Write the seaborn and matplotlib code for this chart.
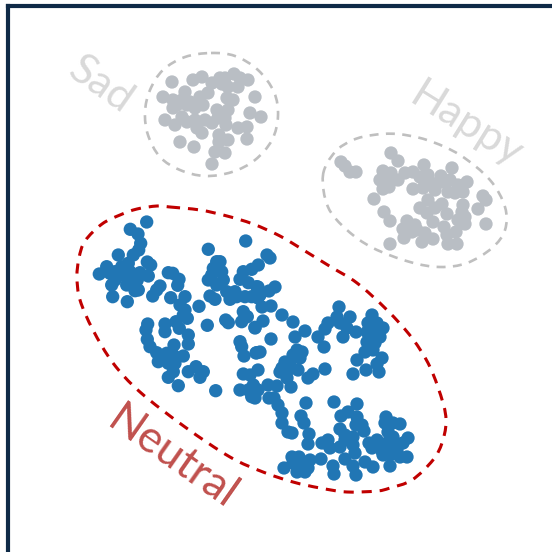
import numpy as np
import pandas as pd
import matplotlib
matplotlib.use("Agg")
import matplotlib.pyplot as plt
import seaborn as sns
from matplotlib.path import Path
from matplotlib.patches import PathPatch

# point positions
neutral_x = [146.7,130.3,138,140.7,138.7,133.3,118.3,147.3,150.7,106.7,99.3,110,115,121.7,128.3,130,123.3,115,111.7,126.7,131.7,140,148.3,137.3,138.3,135,112.7,127.3,160,156.7,152.7,168.3,172.7,179,177.7,170.7,185,180,185,183.3,187.3,199,176,179.3,207.3,147.7,146,165,165,188.3,188.3,147.3,150,156.7,158.3,174,166.7,173.3,183.3,168.3,175,173.3,168.3,178.3,188.3,196,203.3,200,215.7,208.3,245.7,216.7,220,213.3,221.7,211.7,208.3,223.3,216.7,210,215,226.7,235,230,236.7,245,251.7,243.3,251.7,258.3,240,248.3,256.7,260,243.3,247.3,241.7,225.7,228.3,255,240,241.7,244,256.7,243.3,250,240,248.3,253.3,251.7,267,270,258,275,269,258,262,271,282,293,263,255,271,305,295,260,256,339,337,350,328,325,318,324,340,347,343,356,372,368,377,383,367,375,380,367,375,373,365,357,366,382,377,379,353,325,313,308,297,302,293,300,285,290,282,298,288,280,287,291,277,268,258,269,274,278,282,282,288,292,255,258,306,334,357,301,304,309,308,322,328,330,340,345,340,345,353,353,355,341,348,357,356,362,364,386,385,393,400,369,377,372,388,393,387,393,408,403,382,397,390,407,400,390,383,345,353,356,365,373,333,334,321,310,292,299,284,293,303,297,305,308]
neutral_y = [222,229.3,234,243.3,250,255,255,262,265,266.7,274,273.3,271.7,266.7,263.3,271.7,275,280,285,285,278.3,272.7,276,280,290,290.7,296.7,301.7,286,290,296,272.7,273.3,279.3,285.3,297.7,296.7,305,310,315,318.3,306.3,321.7,328.3,325.3,324,330,324,331.7,335,344,339.3,346.7,352.7,361.7,345,353.3,355,356,363.3,363.3,371.7,377.3,385.7,371.7,366.7,371.7,377.3,390.7,249.3,241,261.7,261.7,268.3,271.7,275,280,280,285,296,299.3,291.7,291.7,299.3,296.7,296.7,296.7,271.7,269.3,265,279.3,282.7,286.7,295,311.7,316.7,321.7,320,322.7,327.3,341.7,346.7,356,352.7,374,375,390,390,385,396.7,255,258,287,287,291,298,307,306,315,322,321,328,339,331,337,352,353,307,317,317,323,329,337,347,323,328,337,332,315,323,323,328,332,333,337,342,343,350,352,360,370,358,364,372,374,369,374,378,350,352,355,358,362,362,368,370,370,372,378,387,386,385,370,398,398,405,413,423,432,433,398,390,403,402,404,416,423,434,444,443,440,448,447,440,429,435,437,445,453,416,412,417,425,425,431,417,423,423,424,443,440,448,432,437,443,443,438,443,451,450,455,457,457,466,455,459,466,475,462,467,466,474,459,460,457,457,468,463,463,472,472,468]

sad_x = [172,193,202,163,173,185,182,190,200,208,203,173,195,212,220,225,234,240,248,238,228,222,233,227,255,217,228,165,175,182,187,195,205,212,218,225,226,197,202,250,261,238,247,247,219,219,228,180,194,215,225,212,187,177]
sad_y = [82,80,77,97,100,92,100,102,97,93,105,108,108,83,78,78,74,78,80,87,87,84,100,98,97,110,110,120,125,117,122,120,120,123,118,118,125,128,133,113,117,128,127,139,135,142,140,142,147,152,153,164,105,105]

happy_x = [341,345,350,356,391,398,424,452,383,391,380,387,398,405,413,420,428,441,383,389,413,423,435,430,442,450,448,455,463,467,458,374,428,420,427,435,442,447,433,463,462,465,458,465,478,483,486,486,384,390,407,415,403,412,404,425,422,433,444,447,456,448,457,390,417]
happy_y = [162,166,172,172,153,161,165,168,171,173,180,180,180,173,172,177,175,176,189,187,189,188,190,182,182,180,192,193,192,182,185,199,200,208,213,208,204,214,222,205,212,217,220,224,209,196,200,224,212,221,221,225,229,232,238,233,242,239,227,235,232,244,244,244,230]

# dashed outlines around each group
neutral_loop_x = [170,200,227,253,280,305,331,357,387,412,430,443,446,442,433,412,390,377,347,320,293,263,230,185,140,113,93,80,77,79,85,102,120,137,157]
neutral_loop_y = [207,210,216,224,236,251,267,283,310,338,367,403,423,443,460,480,488,491,492,488,482,472,457,427,392,363,330,300,277,258,241,224,215,209,206]
sad_loop_x = [211,235,258,274,278,272,255,232,205,180,160,148,145,150,163,185]
sad_loop_y = [53,56,70,92,116,140,160,172,176,170,157,135,112,90,70,57]
happy_loop_x = [323,335,353,373,397,427,460,490,505,505,492,467,440,410,373,347,328]
happy_loop_y = [175,152,140,135,134,140,155,180,207,230,248,263,267,262,248,230,207]

group_names = ["Neutral", "Sad", "Happy"]
group_colors = ["#2176b4", "#b9bec4", "#b9bec4"]

df = pd.DataFrame({
    "x": neutral_x + sad_x + happy_x,
    "y": neutral_y + sad_y + happy_y,
    "mood": ["Neutral"] * len(neutral_x) + ["Sad"] * len(sad_x) + ["Happy"] * len(happy_x),
})


def closed_curve(xs, ys):
    # smooth loop through the outline points
    p = np.column_stack([xs, ys])
    n = len(p)
    verts = [p[0]]
    codes = [Path.MOVETO]
    for i in range(n):
        a, b, c, d = p[i - 1], p[i], p[(i + 1) % n], p[(i + 2) % n]
        verts += [b + (c - a) / 6, c - (d - b) / 6, c]
        codes += [Path.CURVE4] * 3
    return Path(verts, codes)


sns.set_style("white")
plt.rcParams["font.family"] = ["Lato", "DejaVu Sans"]

fig = plt.figure(figsize=(5.52, 5.52), dpi=100)
ax = fig.add_axes([8 / 552, 0, 544 / 552, 546.5 / 552])

sns.scatterplot(data=df, x="x", y="y", hue="mood", hue_order=group_names,
                palette=group_colors, s=92, linewidth=0, legend=False, ax=ax, zorder=3)

ax.add_patch(PathPatch(closed_curve(neutral_loop_x, neutral_loop_y), fill=False,
                       ec="#c00000", lw=2.2, ls=(0, (3.3, 2.6))))
ax.add_patch(PathPatch(closed_curve(sad_loop_x, sad_loop_y), fill=False,
                       ec="#bfbfbf", lw=1.9, ls=(0, (3.4, 2.8))))
ax.add_patch(PathPatch(closed_curve(happy_loop_x, happy_loop_y), fill=False,
                       ec="#bfbfbf", lw=1.9, ls=(0, (3.4, 2.8))))

ax.text(101, 85, "Sad", color="#d9d9d9", fontsize=31, rotation=-35, ha="center", va="center")
ax.text(466, 125, "Happy", color="#d9d9d9", fontsize=31, rotation=-32, ha="center", va="center")
ax.text(172, 458, "Neutral", color="#c0504d", fontsize=32, rotation=-35, ha="center", va="center")

ax.set_xlim(8, 552)
ax.set_ylim(552, 5.5)
ax.set_xticks([])
ax.set_yticks([])
ax.set_xlabel("")
ax.set_ylabel("")
ax.spines["right"].set_visible(False)
ax.spines["bottom"].set_visible(False)
for side in ["left", "top"]:
    ax.spines[side].set_color("#0f2a47")
    ax.spines[side].set_linewidth(3)

plt.savefig("out.png", dpi=100)
